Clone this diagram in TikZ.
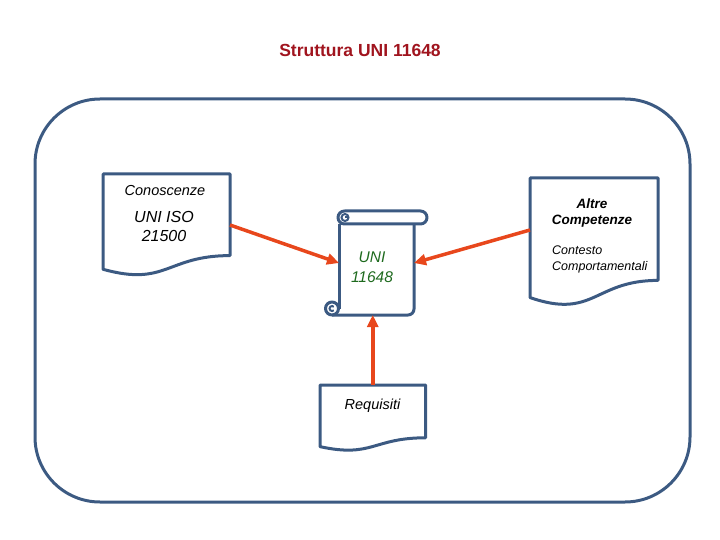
\documentclass[tikz,border=0pt]{standalone}
\usepackage{fontspec}
\setmainfont{Liberation Sans}
\usetikzlibrary{arrows.meta,calc}
\definecolor{frm}{HTML}{3C5A82}
\definecolor{arrc}{HTML}{E8471C}
\definecolor{ttl}{HTML}{A0141E}
\definecolor{grn}{HTML}{1E6A1E}
\newcommand{\docshape}[1]{\draw[shp] (#1.north west) -- (#1.north east) -- ($(#1.north east)!0.8!(#1.south east)$) .. controls ($(#1.north)!0.8!(#1.south)$) and ($(#1.north)!1.107!(#1.south)$) .. ($(#1.north west)!0.934!(#1.south west)$) -- cycle;}
\begin{document}
\begin{tikzpicture}[x=1pt,y=-1pt,
  shp/.style={draw=frm,line width=3pt,line join=round},
  holder/.style={draw=none,inner sep=0pt,outer sep=0pt},
  arr/.style={draw=arrc,line width=3.5pt,-{Triangle[length=12pt,width=11pt]}},
  txt/.style={inner sep=0pt,align=center}]
\useasboundingbox (0,0) rectangle (720,540);
% title
\node[txt,text=ttl,font=\fontsize{17.5}{21}\selectfont\bfseries] (title) at (360,50) {Struttura UNI 11648};
% frame
\node[shp,rounded corners=65pt,minimum width=655pt,minimum height=403pt,inner sep=0pt] (frame) at (362.5,300.5) {};
% document shapes
\node[holder,minimum width=127pt,minimum height=102pt] (con) at (166.5,225) {};
\docshape{con}
\node[holder,minimum width=105.5pt,minimum height=66pt] (req) at (372.75,418) {};
\docshape{req}
\node[holder,minimum width=128pt,minimum height=128pt] (alt) at (594,242) {};
\docshape{alt}
% scroll
\node[holder,minimum width=75pt,minimum height=104pt] (scroll) at (376.5,263) {};
\draw[shp,rounded corners=6.5pt] (338,211) rectangle (427,224);
\draw[shp] (scroll.west |- 0,224) -- (339,308.5);
\draw[shp,rounded corners=6pt] (414,224) -- (414,315) -- (332,315);
\draw[shp] (332,308.5) circle[radius=6.5];
\draw[frm,line width=2pt] (333.8,310.3) arc[start angle=45,end angle=315,radius=2.5];
\draw[frm,line width=2pt] (345,217.5) circle[radius=3.5];
\draw[frm,line width=2pt] (345,217.5) -- (349,217.5);
% texts
\node[txt,font=\fontsize{14.5}{17}\selectfont\itshape] (tcon) at (165,191) {Conoscenze};
\node[txt,font=\fontsize{16}{19}\selectfont\itshape] (tiso) at (164,226.5) {UNI ISO\\21500};
\node[txt,text=grn,font=\fontsize{15.5}{20}\selectfont\itshape] (tuni) at (372,267) {UNI\\11648};
\node[txt,font=\fontsize{14.5}{17}\selectfont\itshape] (treq) at (372.5,406) {Requisiti};
\node[txt,font=\fontsize{13.5}{16}\selectfont\bfseries\itshape] (talt) at (592,213.5) {Altre\\Competenze};
\node[txt,align=left,font=\fontsize{12.5}{16}\selectfont\itshape,anchor=west] (tctx) at (552,259) {Contesto\\Comportamentali};
% arrows
\draw[arr] (con.east) -- (scroll.west);
\draw[arr] ([yshift=12pt]alt.west) -- (scroll.east);
\draw[arr] (req.north) -- (req.north |- scroll.south);
\end{tikzpicture}
\end{document}
